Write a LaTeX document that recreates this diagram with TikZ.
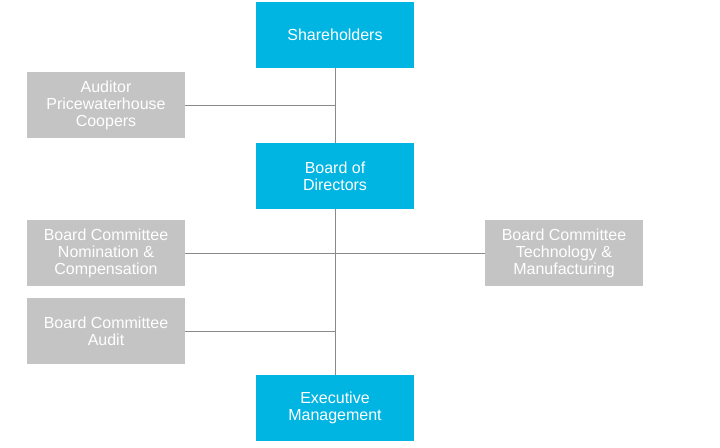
\documentclass[tikz,border=0pt]{standalone}
\usepackage{fontspec}
\setmainfont{Liberation Sans}
\usepackage{tikz}
\definecolor{boxcyan}{HTML}{00B5E2}
\definecolor{boxgray}{HTML}{C4C4C4}
\definecolor{linegray}{HTML}{8A8A8A}
\tikzset{
  orgbox/.style={rectangle, minimum width=158pt, minimum height=66pt, inner sep=0pt,
    text=white, align=center, font=\fontsize{16}{17}\selectfont},
  mainbox/.style={orgbox, fill=boxcyan},
  sidebox/.style={orgbox, fill=boxgray},
  orgline/.style={draw=linegray, line width=0.8pt}
}
\begin{document}
\begin{tikzpicture}[x=1pt, y=1pt]
\useasboundingbox[fill=white] (0,0) rectangle (720,447);
\node[mainbox] at (335,412) (n1) {Shareholders};
\node[sidebox] at (106,342) (n2) {Auditor\\Pricewaterhouse\\Coopers};
\node[mainbox] at (335,271) (n3) {Board of\\Directors};
\node[sidebox] at (106,194) (n4) {Board Committee\\Nomination \&\\Compensation};
\node[sidebox] at (564,194) (n5) {Board Committee\\Technology \&\\Manufacturing};
\node[sidebox] at (106,116) (n6) {Board Committee\\Audit};
\node[mainbox] at (335,39) (n7) {Executive\\Management};
\coordinate (c2) at (n2 -| n1);
\coordinate (c6) at (n6 -| n3);
\path[orgline] (n1) -- (n3);
\path[orgline] (n3) -- (n7);
\path[orgline] (n2) -- (c2);
\path[orgline] (n4) -- (n5);
\path[orgline] (n6) -- (c6);
\end{tikzpicture}
\end{document}
